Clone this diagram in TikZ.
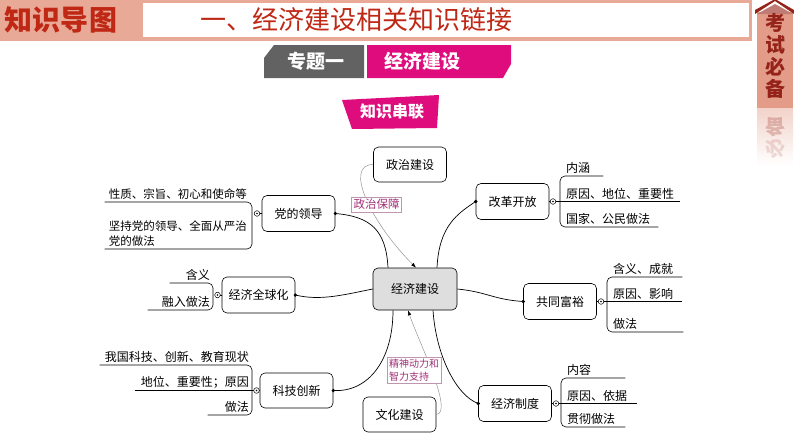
\documentclass[tikz,border=0pt]{standalone}
\usepackage{fontspec}
\setmainfont{Noto Sans CJK SC}
\usetikzlibrary{arrows.meta}

\definecolor{salmon}{RGB}{232,170,150}
\definecolor{darkred}{RGB}{192,40,22}
\definecolor{tabfill}{RGB}{226,156,136}
\definecolor{tabred}{RGB}{150,35,25}
\definecolor{tabgray}{RGB}{98,98,98}
\definecolor{rose}{RGB}{222,12,125}
\definecolor{hubgray}{RGB}{222,222,222}
\definecolor{hintgray}{RGB}{140,140,140}
\definecolor{tagtext}{RGB}{160,50,120}
\definecolor{tagline}{RGB}{190,150,175}

\tikzset{
  topic/.style={draw, line width=.6pt, rounded corners=5pt, minimum width=73pt,
    minimum height=36pt, inner sep=2pt, font=\fontsize{12}{14}\selectfont},
  leafl/.style={anchor=south east, align=right, inner xsep=3pt, inner ysep=2pt,
    font=\fontsize{12}{15}\selectfont},
  leafr/.style={anchor=south west, align=left, inner xsep=6pt, inner ysep=2pt,
    font=\fontsize{12}{15}\selectfont},
  brace/.style={line width=.6pt, rounded corners=5pt},
  linkline/.style={line width=.7pt},
  hintline/.style={draw=hintgray, line width=.45pt, -{Latex[length=5pt,width=3.5pt,color=black]}},
  tagbox/.style={draw=tagline, fill=white, text=tagtext, inner xsep=2pt, inner ysep=2pt,
    font=\fontsize{11.5}{13}\selectfont},
}
\newcommand{\branchdot}[1]{\draw[line width=.5pt, fill=white] (#1) circle (2.8pt); \fill (#1) circle (.8pt);}

\begin{document}
\begin{tikzpicture}[x=1pt, y=-1pt]
  \useasboundingbox (0,0) rectangle (794,447);
  % header
  \fill[salmon] (0,0) rectangle (752,41);
  \fill[white] (143,3) rectangle (749,37);
  \node[text=darkred, font=\fontsize{28}{28}\selectfont\bfseries] (zsdt) at (61,20) {知识导图};
  \node[text=darkred, font=\fontsize{26}{26}\selectfont] (title) at (356,20) {一、经济建设相关知识链接};
  % side tab
  \fill[tabfill] (757,12) rectangle (793,108);
  \fill[tabred] (755,14) -- (775,1) -- (794,14) -- (794,10) -- (775,-1) -- (755,10) -- cycle;
  \fill[tabred!60] (757,14) -- (775,4) -- (793,14) -- cycle;
  \node[text=tabred, align=center, font=\fontsize{20}{22}\selectfont\bfseries] (kszb) at (775,55.5) {考\\试\\必\\备};
  \shade[top color=tabfill!45, bottom color=white] (757,108) rectangle (793,165);
  \node[text=tabred, opacity=.25, font=\fontsize{20}{22}\selectfont\bfseries] (ref1) at (775,127) {\scalebox{1}[-1]{备}};
  \node[text=tabred, opacity=.15, font=\fontsize{20}{22}\selectfont\bfseries] (ref2) at (775,149) {\scalebox{1}[-1]{必}};
  % topic tab
  \fill[tabgray] (274,45) -- (364,45) -- (364,78) -- (264,78) -- (264,58) -- cycle;
  \fill[rose] (367,45) -- (511,45) -- (511,64) -- (503,78) -- (367,78) -- cycle;
  \node[white, font=\fontsize{19}{19}\selectfont\bfseries] (zt1) at (316,61.5) {专题一};
  \node[white, font=\fontsize{19}{19}\selectfont\bfseries] (zt2) at (422,61.5) {经济建设};
  \fill[rose] (342,100) -- (439,95) -- (437,128) -- (352,129) -- cycle;
  \node[white, font=\fontsize{16}{16}\selectfont\bfseries] (zscl) at (392,112) {知识串联};

  % main nodes
  \node[topic, fill=hubgray, minimum width=84pt, minimum height=42pt] (jj) at (415,289) {经济建设};
  \node[topic, minimum height=35pt] (zz) at (410,164.5) {政治建设};
  \node[topic, minimum height=35pt] (wh) at (399.5,414.5) {文化建设};
  \node[topic] (gg) at (512.5,201.5) {改革开放};
  \node[topic] (gf) at (560,301.5) {共同富裕};
  \node[topic] (zd) at (515,403.5) {经济制度};
  \node[topic] (dl) at (298.5,213.5) {党的领导};
  \node[topic] (qq) at (258.5,295) {经济全球化};
  \node[topic, minimum height=35pt] (kj) at (296.5,390.5) {科技创新};

  \draw[linkline] ([xshift=-27pt]jj.north) .. controls +(-2,-38) and +(35,3) .. (dl.east);
  \draw[linkline] ([xshift=22pt]jj.north) .. controls +(2,-42) and +(-18,12) .. (gg.west);
  \draw[linkline] (jj.east) .. controls +(30,3) and +(-30,-2) .. (gf.west);
  \draw[linkline] ([xshift=18pt]jj.south) .. controls +(3,45) and +(-22,-8) .. (zd.west);
  \draw[linkline] ([xshift=-22pt]jj.south) .. controls +(0,50) and +(35,2) .. (kj.east);
  \draw[linkline] (jj.west) .. controls +(-30,6) and +(25,6) .. (qq.east);
  \fill (dl.east) circle (1.8pt);
  \fill (gg.west) circle (1.8pt);
  \fill (gf.west) circle (1.8pt);
  \fill (zd.west) circle (1.8pt);
  \fill (kj.east) circle (1.8pt);
  \fill (qq.east) circle (1.8pt);

  \draw[hintline] (zz.west) .. controls +(-30,0) and +(-45,-45) .. ([xshift=1pt]jj.north);
  \draw[hintline] (wh.east) .. controls +(18,-2) and +(10,30) .. ([xshift=-7pt]jj.south);
  \node[tagbox] (zzbz) at (376.5,204.5) {政治保障};
  \node[tagbox, align=left, font=\fontsize{10}{12.5}\selectfont] (jsdl) at (414,370) {精神动力和\\智力支持};

  % 党的领导
  \node[leafl, align=left, text width=139pt, inner xsep=4pt, font=\fontsize{11.5}{15}\selectfont] (dl1) at (252,202) {性质、宗旨、初心和使命等};
  \node[leafl, align=left, text width=139pt, inner xsep=4pt, font=\fontsize{11.5}{15}\selectfont] (dl2) at (252,249) {坚持党的领导、全面从严治\\党的做法};
  \draw[brace] (dl1.south west) -- (dl1.south east) -- (dl2.south east) -- (dl2.south west);
  \coordinate (dlc) at (257,213.5);
  \draw[line width=.6pt] (dl.west) -- (dlc);
  \branchdot{dlc}

  % 经济全球化
  \node[leafl, text width=37pt] (qq1) at (213,283) {含义};
  \node[leafl, text width=59pt] (qq2) at (213,310) {融入做法};
  \draw[brace] (qq1.south west) -- (qq1.south east) -- (qq2.south east) -- (qq2.south west);
  \coordinate (qqc) at (217.5,295);
  \draw[line width=.6pt] (qq.west) -- (qqc);
  \branchdot{qqc}

  % 科技创新
  \node[leafl, text width=146pt] (kj1) at (252,365) {我国科技、创新、教育现状};
  \node[leafl, text width=111pt] (kj2) at (252,390.5) {地位、重要性；原因};
  \node[leafl, text width=38pt] (kj3) at (252,415) {做法};
  \draw[brace] (kj1.south west) -- (kj1.south east) -- (kj3.south east) -- (kj3.south west);
  \coordinate (kjc) at (256.5,390.5);
  \draw[line width=.6pt] (kj2.south west) -- (kjc) -- (kj.west);
  \branchdot{kjc}

  % 改革开放
  \node[leafr, text width=31pt] (gg1) at (560,176) {内涵};
  \node[leafr, text width=108pt] (gg2) at (560,201.5) {原因、地位、重要性};
  \node[leafr, text width=86pt] (gg3) at (560,227) {国家、公民做法};
  \draw[brace] (gg1.south east) -- (gg1.south west) -- (gg3.south west) -- (gg3.south east);
  \coordinate (ggc) at (553,201.5);
  \draw[line width=.6pt] (gg.east) -- (ggc) -- (gg2.south east);
  \branchdot{ggc}

  % 共同富裕
  \node[leafr, text width=63pt] (gf1) at (607,277) {含义、成就};
  \node[leafr, text width=63pt] (gf2) at (607,301.5) {原因、影响};
  \node[leafr, text width=64pt] (gf3) at (607,332) {做法};
  \draw[brace] (gf1.south east) -- (gf1.south west) -- (gf3.south west) -- (gf3.south east);
  \coordinate (gfc) at (601,301.5);
  \draw[line width=.6pt] (gf.east) -- (gfc) -- (gf2.south east);
  \branchdot{gfc}

  % 经济制度
  \node[leafr, text width=52pt] (zd1) at (561,378) {内容};
  \node[leafr, text width=64pt] (zd2) at (561,403.5) {原因、依据};
  \node[leafr, text width=52pt] (zd3) at (561,427) {贯彻做法};
  \draw[brace] (zd1.south east) -- (zd1.south west) -- (zd3.south west) -- (zd3.south east);
  \coordinate (zdc) at (556,403.5);
  \draw[line width=.6pt] (zd.east) -- (zdc) -- (zd2.south east);
  \branchdot{zdc}
\end{tikzpicture}
\end{document}
